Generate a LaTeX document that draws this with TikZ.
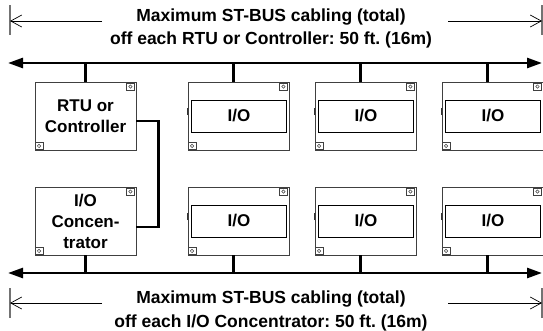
\documentclass[tikz,border=0pt]{standalone}
\usepackage{fontspec}
\setmainfont{Liberation Sans}
\usetikzlibrary{arrows.meta}

\newcommand\modfont{\fontsize{17}{21}\selectfont\bfseries}
\newcommand\notefont{\fontsize{17.5}{23.5}\selectfont\bfseries}
\frenchspacing

\tikzset{
  module/.style={draw=black!75, line width=0.9pt, fill=white, minimum width=101pt,
    minimum height=68pt, inner sep=0pt, align=center, font=\modfont},
  iobox/.style={draw, line width=0.9pt, minimum width=95pt, minimum height=32pt,
    inner sep=0pt, font=\modfont},
  corner/.style={draw=black!75, line width=0.6pt, fill=white, minimum size=7.5pt, inner sep=0pt,
    path picture={\draw[line width=0.5pt] (path picture bounding box.center) circle (1.7pt);}},
  notch/.style={line width=1.6pt, black!80},
  bus/.style={line width=2.6pt, {Triangle[length=15pt,width=10pt]}-{Triangle[length=15pt,width=10pt]}},
  drop/.style={line width=2.2pt},
  link/.style={line width=2.4pt},
  dimline/.style={line width=0.7pt, -{Straight Barb[length=11pt,width=12pt]}},
  tick/.style={black!55, line width=1.2pt},
  note/.style={align=center, font=\notefont}
}

\begin{document}
\begin{tikzpicture}[x=1pt, y=-1pt]
\useasboundingbox (0,0) rectangle (543,330);

% Top cabling note
\node[note] (topnote) at (271,28.5) {Maximum ST-BUS cabling (total)\\off each RTU or Controller: 50 ft. (16m)};
\draw[tick] (10,5) -- (10,35);
\draw[tick] (542,5) -- (542,35);
\coordinate (tlend) at (10,21);
\coordinate (trend) at (542,21);
\coordinate (tlstart) at (102,21);
\coordinate (trstart) at (448,21);
\draw[dimline] (tlstart) -- (tlend);
\draw[dimline] (trstart) -- (trend);

% Bottom cabling note
\node[note] (botnote) at (271,311) {Maximum ST-BUS cabling (total)\\off each I/O Concentrator: 50 ft. (16m)};
\draw[tick] (10,288) -- (10,318);
\draw[tick] (542,288) -- (542,318);
\coordinate (blend) at (10,303);
\coordinate (brend) at (542,303);
\coordinate (blstart) at (102,303);
\coordinate (brstart) at (448,303);
\draw[dimline] (blstart) -- (blend);
\draw[dimline] (brstart) -- (brend);

% Buses
\coordinate (topbusL) at (8,63);
\coordinate (topbusR) at (542,63);
\coordinate (botbusL) at (8,273);
\coordinate (botbusR) at (542,273);
\draw[bus] (topbusL) -- (topbusR);
\draw[bus] (botbusL) -- (botbusR);

% Modules (top row on RTU bus, bottom row on concentrator bus)
\node[module] (rtu) at (85.5,116) {RTU or\\Controller};
\node[module] (conc) at (85.5,221) {I/O\\Concen-\\trator};
\node[module] (io1) at (238.5,116) {};
\node[module] (io2) at (365.5,116) {};
\node[module] (io3) at (492.5,116) {};
\node[module] (io4) at (238.5,221) {};
\node[module] (io5) at (365.5,221) {};
\node[module] (io6) at (492.5,221) {};

\foreach \m in {io1,io2,io3,io4,io5,io6} {
  \node[iobox] (\m-in) at ([xshift=0.5pt]\m.center) {I/O};
  \draw[notch] ([yshift=1pt]\m.west) -- ([yshift=8pt]\m.west);
}

% corner screws
\foreach \m in {rtu,conc,io1,io2,io3,io4,io5,io6} {
  \node[corner] (\m-ne) at ([xshift=-6pt,yshift=-5pt]\m.north east) {};
  \node[corner] (\m-sw) at ([xshift=4.5pt,yshift=4.5pt]\m.south west) {};
}

% Drops to the buses
\draw[drop] (rtu.north) -- (rtu.north |- topbusL);
\draw[drop] (conc.south) -- (conc.south |- botbusL);
\foreach \m in {io1,io2,io3}
  \draw[drop] ([xshift=-5pt]\m.north) -- ([xshift=-5pt]\m.north |- topbusL);
\foreach \m in {io4,io5,io6}
  \draw[drop] ([xshift=-5pt]\m.south) -- ([xshift=-5pt]\m.south |- botbusL);

% RTU to concentrator link
\draw[link] ([yshift=-5pt]rtu.east) -- ++(22,0) |- ([yshift=-6pt]conc.east);

\end{tikzpicture}
\end{document}
